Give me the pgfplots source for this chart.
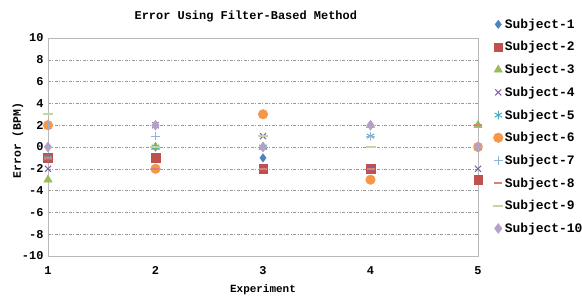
\documentclass[border=0pt]{standalone}
\usepackage{pgfplots}
\pgfplotsset{compat=1.18}
\usepackage{fontspec}
\setmainfont{Liberation Mono}
\definecolor{cA}{HTML}{4F81BD}
\definecolor{cB}{HTML}{C0504D}
\definecolor{cC}{HTML}{9BBB59}
\definecolor{cD}{HTML}{8064A2}
\definecolor{cE}{HTML}{4BACC6}
\definecolor{cF}{HTML}{F79646}
\definecolor{cG}{HTML}{95B3D7}
\definecolor{cH}{HTML}{D8807E}
\definecolor{cI}{HTML}{C3D69B}
\definecolor{cJ}{HTML}{B3A2C7}
\begin{document}
\begin{tikzpicture}
\useasboundingbox (-48bp,-41bp) rectangle (534bp,256bp);
\begin{axis}[
  at={(0,0)}, anchor=south west,
  scale only axis, width=430bp, height=218bp,
  xmin=1, xmax=5, ymin=-10, ymax=10,
  xtick={1,2,3,4,5}, ytick={-10,-8,...,10},
  axis line style={draw=gray!55, line width=0.8pt},
  tick style={draw=none},
  ymajorgrids,
  major grid style={draw=gray!80, line width=0.5pt, dash pattern=on 3bp off 1.5bp on 1bp off 1.5bp},
  font=\bfseries,
  /pgf/number format/assume math mode=true,
  ticklabel style={font=\fontsize{12}{12}\bfseries\selectfont},
  yticklabel style={xshift=-1bp},
  xticklabel style={yshift=-7bp},
  every axis title shift=0pt,
  title={Error Using Filter-Based Method},
  title style={font=\fontsize{12}{12}\bfseries\selectfont, at={(0.46,1.097)}, anchor=center},
  ylabel={Error (BPM)},
  ylabel style={font=\fontsize{11.5}{12}\bfseries\selectfont, at={(-0.07,0.53)}, anchor=center},
  xlabel={Experiment},
  xlabel style={font=\fontsize{11}{11}\bfseries\selectfont, at={(0.5,-0.155)}, anchor=center},
  legend cell align=left,
  legend style={draw=none, fill=none, at={(1.035,1.093)}, anchor=north west,
    font=\fontsize{13}{13}\bfseries\selectfont, inner sep=0pt,
    row sep=9.8bp, nodes={inner xsep=1.5bp, inner ysep=1bp}},
  legend image code/.code={\draw[mark repeat=2,mark phase=2,#1] plot coordinates {(0bp,0bp) (4bp,0bp) (8bp,0bp)};},
  clip=false,
]
\addplot[only marks, mark=diamond*, mark size=4.2bp, color=cA] coordinates {(1,-1) (2,0) (3,-1) (4,-2) (5,0)};
\addlegendentry{Subject-1}
\addplot[only marks, mark=square*, mark size=4.3bp, color=cB] coordinates {(1,-1) (2,-1) (3,-2) (4,-2) (5,-3)};
\addlegendentry{Subject-2}
\addplot[only marks, mark=triangle*, mark size=4.8bp, color=cC] coordinates {(1,-3) (2,0) (3,0) (4,2) (5,2)};
\addlegendentry{Subject-3}
\addplot[only marks, mark=x, mark size=4.3bp, color=cD, line width=1pt] coordinates {(1,-2) (2,2) (3,1) (4,-2) (5,-2)};
\addlegendentry{Subject-4}
\addplot[only marks, mark=asterisk, mark size=4.3bp, color=cE, line width=1pt] coordinates {(1,-1) (2,0) (3,0) (4,1) (5,0)};
\addlegendentry{Subject-5}
\addplot[only marks, mark=*, mark size=4.8bp, color=cF] coordinates {(1,2) (2,-2) (3,3) (4,-3) (5,0)};
\addlegendentry{Subject-6}
\addplot[only marks, mark=+, mark size=4.3bp, color=cG, line width=0.8pt] coordinates {(1,2) (2,1) (3,0) (4,1) (5,0)};
\addlegendentry{Subject-7}
\addplot[only marks, mark=-, mark size=4bp, color=cH, line width=1.8pt] coordinates {(1,-1) (2,-2) (3,-2) (4,-2) (5,2)};
\addlegendentry{Subject-8}
\addplot[only marks, mark=-, mark size=5bp, color=cI, line width=1.8pt] coordinates {(1,3) (2,0) (3,1) (4,0) (5,0)};
\addlegendentry{Subject-9}
\addplot[only marks, mark=diamond*, mark size=5bp, color=cJ] coordinates {(1,0) (2,2) (3,0) (4,2) (5,0)};
\addlegendentry{Subject-10}
\end{axis}
\end{tikzpicture}
\end{document}
